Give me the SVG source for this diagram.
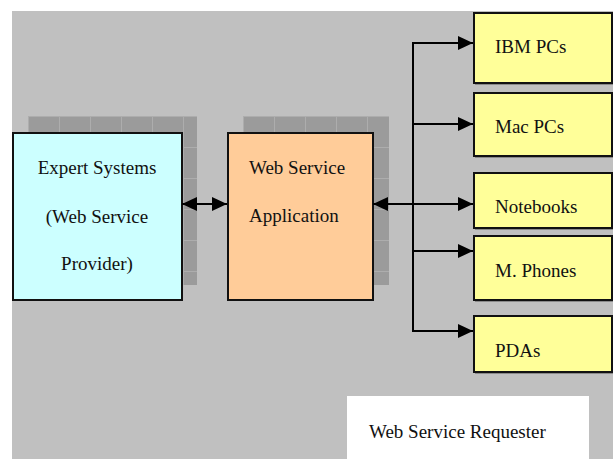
<svg xmlns="http://www.w3.org/2000/svg" width="613" height="459" viewBox="0 0 613 459">
<style>
text{font-family:'Liberation Serif','DejaVu Serif',serif;font-size:19px;fill:#111}
.box{stroke:#111;stroke-width:2}
.ln{stroke:#000;stroke-width:2;fill:none}
.sh{fill:#8a8a8a}
</style>
<defs>
<pattern id="g1" patternUnits="userSpaceOnUse" x="28" y="116" width="31" height="31">
<rect width="31" height="31" fill="#9b9b9b"/>
<path d="M0,0.5H31M0.5,0V31" stroke="#adadad" stroke-width="1"/>
</pattern>
<pattern id="g2" patternUnits="userSpaceOnUse" x="243" y="116" width="31" height="31">
<rect width="31" height="31" fill="#9b9b9b"/>
<path d="M0,0.5H31M0.5,0V31" stroke="#adadad" stroke-width="1"/>
</pattern>
<marker id="ah" markerUnits="userSpaceOnUse" markerWidth="15" markerHeight="14" refX="15" refY="7" orient="auto-start-reverse">
<path d="M0,0L15,7L0,14z" fill="#000"/>
</marker>
</defs>
<rect x="12" y="11" width="601" height="448" fill="#c0c0c0"/>
<rect x="347" y="396" width="242" height="63" fill="#fff"/>
<text x="369" y="438" font-family="Liberation Serif, serif">Web Service Requester</text>

<g id="expert">
<rect x="28" y="116" width="169" height="169" fill="url(#g1)"/>
<rect class="box" x="13" y="133" width="169" height="167" fill="#ccffff"/>
<text x="97" y="174" text-anchor="middle">Expert Systems</text>
<text x="97" y="223" text-anchor="middle">(Web Service</text>
<text x="97" y="270" text-anchor="middle">Provider)</text>
</g>
<g id="app">
<rect x="243" y="116" width="146" height="169" fill="url(#g2)"/>
<rect class="box" x="228" y="133" width="145" height="167" fill="#ffcc99"/>
<text x="249" y="174">Web Service</text>
<text x="249" y="222">Application</text>
</g>
<g id="ibm">
<rect class="sh" x="475" y="14" width="138" height="71"/>
<rect class="box" x="474" y="13" width="138" height="70" fill="#ffff99"/>
<text x="495" y="53">IBM PCs</text>
</g>
<g id="mac">
<rect class="sh" x="475" y="94" width="138" height="64"/>
<rect class="box" x="474" y="93" width="138" height="63" fill="#ffff99"/>
<text x="495" y="133">Mac PCs</text>
</g>
<g id="notebooks">
<rect class="sh" x="475" y="174" width="138" height="56"/>
<rect class="box" x="474" y="173" width="138" height="55" fill="#ffff99"/>
<text x="495" y="213">Notebooks</text>
</g>
<g id="phones">
<rect class="sh" x="475" y="237" width="138" height="65"/>
<rect class="box" x="474" y="236" width="138" height="64" fill="#ffff99"/>
<text x="495" y="277">M. Phones</text>
</g>
<g id="pdas">
<rect class="sh" x="475" y="317" width="138" height="57"/>
<rect class="box" x="474" y="316" width="138" height="56" fill="#ffff99"/>
<text x="495" y="357">PDAs</text>
</g>

<g id="connectors">
<line class="ln" x1="182" y1="204" x2="227" y2="204" marker-start="url(#ah)" marker-end="url(#ah)"/>
<line class="ln" x1="373" y1="204" x2="473" y2="204" marker-start="url(#ah)" marker-end="url(#ah)"/>
<line class="ln" x1="413" y1="42" x2="413" y2="332"/>
<line class="ln" x1="412" y1="43" x2="473" y2="43" marker-end="url(#ah)"/>
<line class="ln" x1="412" y1="124" x2="473" y2="124" marker-end="url(#ah)"/>
<line class="ln" x1="412" y1="251" x2="473" y2="251" marker-end="url(#ah)"/>
<line class="ln" x1="412" y1="331" x2="473" y2="331" marker-end="url(#ah)"/>
</g>
</svg>
